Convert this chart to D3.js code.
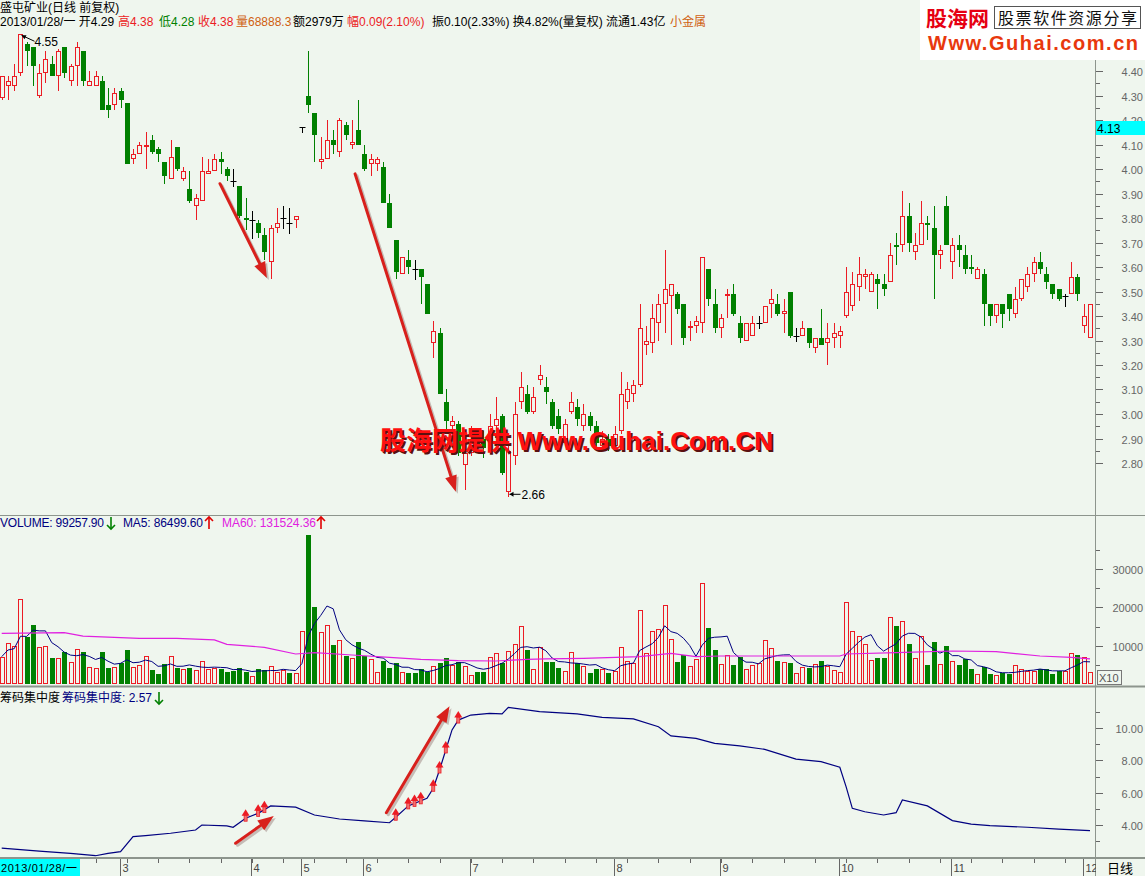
<!DOCTYPE html>
<html><head><meta charset="utf-8">
<script src="https://cdnjs.cloudflare.com/ajax/libs/d3/7.8.5/d3.min.js"></script>
<style>body{margin:0;background:#eff6ee;}svg{display:block;}</style>
</head><body>
<svg id="c" width="1145" height="876"></svg>
<script>
// ---------- DATA ----------
const opens=[4.29,4.34,4.34,4.39,4.51,4.50,4.30,4.39,4.43,4.38,
4.50,4.36,4.42,4.48,4.34,4.34,4.36,4.26,4.26,4.32,
4.27,4.04,4.06,4.09,4.12,4.08,4.03,3.96,4.09,3.96,
3.92,3.85,3.87,3.98,3.99,4.04,4.00,3.95,3.93,3.80,
3.79,3.78,3.73,3.62,3.76,3.80,3.78,3.79,4.17,4.30,
4.23,4.03,4.04,4.12,4.07,4.18,4.10,4.16,4.06,4.02,
4.02,4.01,3.86,3.71,3.57,3.63,3.59,3.59,3.53,3.29,
3.33,3.05,2.95,2.96,2.79,2.84,2.92,2.90,2.88,2.95,
2.99,2.68,2.83,3.05,3.08,3.01,3.14,3.11,3.05,2.99,
2.88,3.01,3.03,2.95,2.99,2.95,2.87,2.90,2.87,2.93,
3.05,3.08,3.12,3.28,3.29,3.37,3.45,3.48,3.49,3.45,
3.35,3.36,3.37,3.59,3.45,3.35,3.48,3.49,3.37,3.30,
3.32,3.37,3.37,3.45,3.45,3.41,3.50,3.32,3.32,3.35,
3.27,3.31,3.29,3.31,3.32,3.40,3.44,3.52,3.56,3.50,
3.55,3.53,3.54,3.69,3.69,3.81,3.66,3.69,3.78,3.76,
3.65,3.85,3.62,3.69,3.65,3.60,3.55,3.57,3.45,3.40,
3.45,3.49,3.41,3.47,3.52,3.57,3.62,3.57,3.53,3.51,
3.48,3.49,3.56,3.36,3.31];
const highs=[4.38,4.38,4.43,4.55,4.52,4.50,4.43,4.48,4.46,4.49,
4.50,4.43,4.52,4.48,4.40,4.40,4.38,4.33,4.33,4.33,
4.27,4.08,4.11,4.15,4.14,4.09,4.03,4.12,4.09,4.01,
3.99,3.90,4.05,4.04,4.06,4.07,4.01,4.00,3.93,3.88,
3.83,3.79,3.76,3.77,3.84,3.85,3.84,3.81,4.17,4.48,
4.23,4.13,4.20,4.16,4.21,4.19,4.20,4.28,4.10,4.06,
4.05,4.03,3.90,3.71,3.64,3.67,3.63,3.59,3.53,3.38,
3.35,3.10,2.99,2.97,2.88,2.95,2.94,2.93,3.00,3.07,
3.00,2.89,3.05,3.17,3.12,3.11,3.20,3.15,3.06,3.02,
2.98,3.09,3.06,3.04,3.01,2.97,2.93,2.92,2.95,3.17,
3.13,3.14,3.45,3.36,3.45,3.49,3.67,3.53,3.50,3.45,
3.38,3.40,3.64,3.59,3.51,3.41,3.51,3.53,3.40,3.37,
3.40,3.40,3.44,3.51,3.49,3.47,3.50,3.35,3.38,3.35,
3.31,3.43,3.37,3.37,3.36,3.60,3.58,3.64,3.59,3.58,
3.57,3.57,3.70,3.74,3.91,3.86,3.74,3.87,3.81,3.85,
3.69,3.89,3.72,3.73,3.69,3.65,3.60,3.59,3.45,3.45,
3.45,3.49,3.52,3.55,3.60,3.64,3.66,3.60,3.53,3.51,
3.49,3.62,3.57,3.45,3.45];
const lows=[4.28,4.28,4.32,4.38,4.42,4.34,4.29,4.35,4.38,4.32,
4.37,4.34,4.34,4.34,4.34,4.34,4.24,4.21,4.24,4.25,
4.02,4.02,4.06,4.00,4.06,4.03,3.94,3.96,3.99,3.95,
3.86,3.79,3.87,3.98,3.99,3.98,3.95,3.93,3.80,3.75,
3.72,3.72,3.63,3.55,3.74,3.76,3.74,3.76,4.15,4.23,
4.03,4.00,4.04,4.06,4.05,4.12,4.08,4.10,3.99,3.97,
3.99,3.86,3.76,3.55,3.57,3.57,3.55,3.45,3.41,3.23,
3.08,2.94,2.90,2.83,2.69,2.83,2.84,2.82,2.86,2.93,
2.75,2.66,2.79,3.02,3.00,3.00,3.12,3.04,2.94,2.92,
2.87,3.00,2.95,2.93,2.93,2.86,2.85,2.85,2.86,2.92,
3.02,3.05,3.11,3.24,3.25,3.30,3.33,3.28,3.41,3.28,
3.30,3.33,3.33,3.44,3.33,3.31,3.39,3.40,3.29,3.30,
3.32,3.35,3.37,3.39,3.40,3.33,3.31,3.30,3.32,3.27,
3.25,3.28,3.20,3.27,3.27,3.39,3.42,3.46,3.51,3.50,
3.43,3.48,3.54,3.61,3.66,3.66,3.63,3.69,3.71,3.47,
3.59,3.69,3.55,3.60,3.57,3.57,3.55,3.36,3.36,3.37,
3.35,3.38,3.39,3.46,3.50,3.54,3.57,3.51,3.47,3.46,
3.44,3.49,3.46,3.33,3.31];
const closes=[4.38,4.36,4.38,4.55,4.48,4.42,4.39,4.45,4.38,4.48,
4.39,4.42,4.50,4.36,4.36,4.38,4.24,4.24,4.31,4.28,
4.02,4.06,4.10,4.10,4.07,4.06,3.97,4.05,4.00,3.99,
3.87,3.88,3.99,3.99,4.04,4.03,3.97,3.95,3.81,3.79,
3.79,3.74,3.66,3.76,3.78,3.80,3.78,3.81,4.17,4.26,
4.14,4.04,4.12,4.10,4.20,4.14,4.11,4.10,4.00,4.04,
4.04,3.86,3.76,3.58,3.64,3.60,3.59,3.56,3.41,3.34,
3.08,2.97,2.97,2.84,2.84,2.88,2.86,2.86,2.95,2.98,
2.76,2.85,3.00,3.11,3.01,3.07,3.16,3.09,2.95,2.94,
2.96,3.05,2.98,3.00,2.95,2.88,2.90,2.87,2.92,3.08,
3.10,3.12,3.35,3.30,3.39,3.45,3.51,3.53,3.43,3.31,
3.36,3.38,3.64,3.47,3.35,3.39,3.49,3.41,3.31,3.37,
3.37,3.37,3.44,3.47,3.41,3.42,3.32,3.32,3.35,3.29,
3.31,3.28,3.31,3.33,3.34,3.50,3.53,3.57,3.57,3.57,
3.53,3.51,3.65,3.68,3.81,3.70,3.69,3.78,3.77,3.65,
3.67,3.69,3.69,3.67,3.59,3.59,3.59,3.45,3.40,3.45,
3.41,3.43,3.47,3.55,3.57,3.62,3.59,3.54,3.49,3.47,
3.48,3.56,3.49,3.40,3.45];
// volume in axis units (x10)
const volumes=[7130,10600,9920,22200,12200,15400,9570,9920,6870,6870,
8270,5740,9140,8350,4520,4260,8350,4260,4520,5570,
8870,4520,4960,7310,3650,2610,5220,7310,4260,3830,
4260,3650,6000,3830,4260,3920,3220,3480,4260,3220,
2090,3920,3650,4700,3220,3650,2960,2960,13800,38900,
20200,13500,15300,10200,11500,7310,6870,10960,7310,6530,
3050,6000,4260,5570,3050,2960,2960,3920,3050,4700,
5570,6870,4960,5740,4700,2350,3220,3220,7130,8000,
5570,8610,10440,15140,8870,3920,9570,5830,5740,4260,
3390,8270,5390,4700,2960,4000,4000,2960,3390,9570,
6000,5390,19300,8000,13800,14300,20500,11700,5740,7480,
4700,6530,26300,14600,8870,5130,7480,4960,7130,3830,
4960,5390,11500,9310,6000,5740,5570,2780,4520,4260,
5130,6000,4700,3650,3050,21400,13800,12500,10400,6260,
6870,6870,17400,15100,16400,10400,6700,12500,4960,10960,
5130,9920,6000,4960,6610,3920,2520,4440,2610,2350,
2780,2520,4960,3830,3390,3390,3920,3830,2610,3390,
3390,8000,7480,6960,3050];
// MA60 of volume at these candle indices
const ma60Idx=[0,10,13,22,28,34,36,42,47,50,56,62,67,73,79,84,87,93,102,107,111,115,126,134,135,143,152,159,166,171,174];
const ma60Val=[13200,13400,12500,11900,11900,11500,10350,9570,7830,8180,7570,6960,6440,6090,6000,6440,6530,6700,7130,8000,7130,7310,7310,7310,7830,8180,8610,8440,7310,6960,6530];
// 筹码集中度 line, read at these candle indices
const concIdx=[0,6,11,15,17,19,21,23,27,31,32,36,37,39,41,43,47,50,54,58,62,63,65,68,69,70,71,72,73,75,78,80,81,86,92,96,101,105,107,111,114,118,122,127,131,134,135,136,138,141,143,144,148,152,155,158,164,169,174];
const concVal=[2.57,2.39,2.25,2.10,2.25,2.35,3.28,3.34,3.49,3.69,4.00,3.94,3.86,4.42,4.72,5.18,5.10,4.62,4.37,4.25,4.14,4.48,5.18,5.65,6.27,7.40,8.64,9.88,10.49,10.80,10.91,10.87,11.28,11.01,10.87,10.66,10.56,10.08,9.51,9.36,9.05,8.89,8.68,8.08,7.92,7.57,6.37,5.03,4.82,4.62,4.76,5.55,5.18,4.27,4.06,3.96,3.86,3.74,3.65];
const markIdx=[39,41,42,63,65,66,67,69,70,71,73];
const monthLabels=["3","4","5","6","7","8","9","10","11","12"];
const monthIdx=[19,40,48,58,75,98,115,134,152,173];
const priceTicks=[4.40,4.30,4.20,4.10,4.00,3.90,3.80,3.70,3.60,3.50,3.40,3.30,3.20,3.10,3.00,2.90,2.80];
const volTicks=[10000,20000,30000];
const concTicks=[4,6,8,10];
// annotation arrows in data units: [fromIndex, fromValue, toIndex, toValue]
const priceArrows=[[34.9,3.94,42.4,3.555],[56.5,3.98,72.6,2.683]];
const concArrows=[[37.4,2.87,43.5,4.55],[61.5,4.76,71.6,11.35]];

// ---------- SETUP ----------
const BG="#eff6ee", RED="#ec1c24", GREEN="#008000", NAVY="#000080", MAG="#e020e0", AX="#666";
const FONT="'Liberation Sans','Noto Sans CJK SC',Arial,sans-serif";
const svg=d3.select("#c").style("font-family",FONT);
svg.append("rect").attr("width",1145).attr("height",876).attr("fill",BG);
const N=opens.length;
const x=d3.scaleLinear().domain([0,N-1]).range([1.7,1090]);
const yP=d3.scaleLinear().domain([2.8,4.4]).range([463,71]);
const yV=d3.scaleLinear().domain([0,30000]).range([684,569]);
const yC=d3.scaleLinear().domain([4,10]).range([825,728]);
const data=d3.range(N).map(i=>({i,o:opens[i],h:highs[i],l:lows[i],c:closes[i],v:volumes[i]}));
const isUp=d=> d.c!==d.o ? d.c>d.o : (d.i===0 || d.c>=closes[d.i-1]);
const cxOf=i=>Math.round(x(i))+0.5;

// ---------- PANEL LINES ----------
const lines=svg.append("g").attr("stroke","#8d958d");
lines.append("line").attr("x1",0).attr("x2",1145).attr("y1",515.5).attr("y2",515.5);
lines.append("line").attr("x1",0).attr("x2",1145).attr("y1",686.5).attr("y2",686.5).attr("stroke-width",2);
lines.append("line").attr("x1",0).attr("x2",1145).attr("y1",858).attr("y2",858).attr("stroke-width",2);
lines.append("line").attr("x1",1095.5).attr("x2",1095.5).attr("y1",30).attr("y2",876);

// ---------- CANDLES ----------
const cg=svg.append("g");
data.forEach(d=>{
  const cx=cxOf(d.i);
  const top=Math.round(yP(Math.max(d.o,d.c))), bot=Math.round(yP(Math.min(d.o,d.c)));
  const yh=Math.round(yP(d.h)), yl=Math.round(yP(d.l));
  if(d.c>d.o){
    if(yh<top) cg.append("line").attr("x1",cx).attr("x2",cx).attr("y1",yh).attr("y2",top).attr("stroke",RED);
    if(yl>bot) cg.append("line").attr("x1",cx).attr("x2",cx).attr("y1",bot).attr("y2",yl).attr("stroke",RED);
    cg.append("rect").attr("x",cx-2).attr("y",top+0.5).attr("width",4).attr("height",Math.max(1,bot-top-1)).attr("fill",BG).attr("stroke",RED);
  } else if(d.c<d.o){
    cg.append("line").attr("x1",cx).attr("x2",cx).attr("y1",yh).attr("y2",yl).attr("stroke",GREEN);
    cg.append("rect").attr("x",cx-2.5).attr("y",top).attr("width",5).attr("height",Math.max(1,bot-top)).attr("fill",GREEN);
  } else {
    cg.append("line").attr("x1",cx).attr("x2",cx).attr("y1",yh).attr("y2",yl+1).attr("stroke","#000");
    cg.append("line").attr("x1",cx-3).attr("x2",cx+3).attr("y1",top+0.5).attr("y2",top+0.5).attr("stroke","#000");
  }
});
// high / low markers
const hiI=d3.maxIndex(highs), loI=d3.minIndex(lows);
const hx=cxOf(hiI), hy=yP(highs[hiI]);
svg.append("line").attr("x1",hx+1).attr("y1",hy+1).attr("x2",hx+14).attr("y2",hy+7).attr("stroke","#000");
svg.append("path").attr("d",`M${hx+1},${hy+1} l5,0 l-2,4 z`).attr("fill","#000");
svg.append("text").attr("x",hx+14).attr("y",hy+12).attr("font-size",12).attr("fill","#000").text(highs[hiI].toFixed(2));
const lx=cxOf(loI), ly=yP(lows[loI])-3;
svg.append("line").attr("x1",lx+1).attr("y1",ly).attr("x2",lx+12).attr("y2",ly).attr("stroke","#000");
svg.append("path").attr("d",`M${lx+1},${ly} l4,-2.5 l0,5 z`).attr("fill","#000");
svg.append("text").attr("x",lx+13).attr("y",ly+5).attr("font-size",12).attr("fill","#000").text(lows[loI].toFixed(2));

// ---------- VOLUME ----------
const vg=svg.append("g");
data.forEach(d=>{
  const cx=cxOf(d.i), t=Math.round(yV(d.v)), b=Math.round(yV(0));
  if(isUp(d)) vg.append("rect").attr("x",cx-2).attr("y",t+0.5).attr("width",4).attr("height",b-t-1).attr("fill",BG).attr("stroke",RED);
  else vg.append("rect").attr("x",cx-2.5).attr("y",t).attr("width",5).attr("height",b-t).attr("fill",GREEN);
});
const ma5=data.map(d=>d3.mean(volumes.slice(Math.max(0,d.i-4),d.i+1)));
svg.append("path").attr("d",d3.line().x((v,i)=>x(i)).y(v=>yV(v)).curve(d3.curveLinear)(ma5)).attr("fill","none").attr("stroke",NAVY).attr("stroke-width",1);
svg.append("path").attr("d",d3.line().x((v,k)=>x(ma60Idx[k])).y(v=>yV(v))(ma60Val)).attr("fill","none").attr("stroke",MAG).attr("stroke-width",1.2);

// ---------- CONCENTRATION ----------
const concLine=d3.line().x((v,k)=>x(concIdx[k])).y(v=>yC(v));
svg.append("path").attr("d",concLine(concVal)).attr("fill","none").attr("stroke",NAVY).attr("stroke-width",1.2);
const concAt=i=>{const k=d3.bisectRight(concIdx,i)-1; if(k>=concIdx.length-1) return concVal[concVal.length-1];
  const t=(i-concIdx[k])/(concIdx[k+1]-concIdx[k]); return concVal[k]+(concVal[k+1]-concVal[k])*t;};
markIdx.forEach(i=>{
  const cx=x(i), cy=yC(concAt(i))+4;
  svg.append("rect").attr("x",cx-1.5).attr("y",cy-7).attr("width",3).attr("height",6).attr("fill","#f07070").attr("stroke",RED).attr("stroke-width",0.8);
  svg.append("path").attr("d",`M${cx},${cy-13} L${cx+4},${cy-6.5} L${cx-4},${cy-6.5} Z`).attr("fill",RED);
});

// ---------- BIG ANNOTATION ARROWS ----------
function bigArrow(x1,y1,x2,y2){
  const dx=x2-x1, dy=y2-y1, L=Math.hypot(dx,dy), ux=dx/L, uy=dy/L, px=-uy, py=ux;
  const hl=16, hw=6;
  const bx=x2-ux*hl, by=y2-uy*hl;
  const g=svg.append("g");
  [[2,2,"rgba(90,40,40,0.28)"],[0,0,"#d8201c"]].forEach(([ox,oy,col])=>{
    g.append("line").attr("x1",x1+ox).attr("y1",y1+oy).attr("x2",bx+ox).attr("y2",by+oy).attr("stroke",col).attr("stroke-width",3).attr("stroke-linecap","round");
    g.append("path").attr("d",`M${x2+ox},${y2+oy} L${bx+px*hw+ox},${by+py*hw+oy} L${bx-px*hw+ox},${by-py*hw+oy} Z`).attr("fill",col);
  });
}
priceArrows.forEach(a=>bigArrow(x(a[0]),yP(a[1]),x(a[2]),yP(a[3])));
concArrows.forEach(a=>bigArrow(x(a[0]),yC(a[1]),x(a[2]),yC(a[3])));

// ---------- RIGHT AXES ----------
const ax=svg.append("g").attr("font-size",11).attr("fill",AX);
function rightAxis(scale,ticks,minor,fmt){
  ticks.forEach(t=>{
    const yy=Math.round(scale(t))+0.5;
    ax.append("line").attr("x1",1096).attr("x2",1103).attr("y1",yy).attr("y2",yy).attr("stroke",AX);
    ax.append("text").attr("x",1143).attr("y",yy+4).attr("text-anchor","end").text(fmt(t));
  });
  minor.forEach(t=>{
    const yy=Math.round(scale(t))+0.5;
    ax.append("line").attr("x1",1096).attr("x2",1100).attr("y1",yy).attr("y2",yy).attr("stroke",AX);
  });
}
rightAxis(yP,priceTicks,priceTicks.map(t=>t+0.05).filter(t=>t<4.45),t=>t.toFixed(2));
rightAxis(yV,volTicks,[5000,15000,25000,35000],t=>String(t));
rightAxis(yC,concTicks,[3,5,7,9,11],t=>t.toFixed(2));
// current price badge
svg.append("rect").attr("x",1096).attr("y",121).attr("width",49).attr("height",14).attr("fill","#00ffff");
svg.append("text").attr("x",1097).attr("y",132.5).attr("font-size",12).attr("fill","#000").text("4.13");
// X10 box
svg.append("rect").attr("x",1097.5).attr("y",670.5).attr("width",24).attr("height",14).attr("fill",BG).attr("stroke","#777");
svg.append("text").attr("x",1099).attr("y",682).attr("font-size",11).attr("fill","#555").text("X10");

// ---------- BOTTOM AXIS ----------
const bx=svg.append("g");
bx.append("rect").attr("x",0).attr("y",859).attr("width",80).attr("height",17).attr("fill","#00ffff");
bx.append("text").attr("x",1).attr("y",872).attr("font-size",11).attr("fill","#000").attr("textLength",76).text("2013/01/28/一");
for(let i=5;i<N;i+=5){
  const xx=Math.round(x(i))+0.5;
  if(xx<82) continue;
  bx.append("line").attr("x1",xx).attr("x2",xx).attr("y1",859).attr("y2",863).attr("stroke","#666");
}
monthIdx.forEach((i,k)=>{
  const xx=Math.round(x(i))-0.5;
  bx.append("line").attr("x1",xx).attr("x2",xx).attr("y1",859).attr("y2",876).attr("stroke","#666");
  bx.append("text").attr("x",xx+2).attr("y",872).attr("font-size",11).attr("fill","#444").text(monthLabels[k]);
});
bx.append("rect").attr("x",1096).attr("y",859).attr("width",49).attr("height",17).attr("fill",BG);
bx.append("text").attr("x",1120).attr("y",873).attr("font-size",13).attr("text-anchor","middle").attr("fill","#000").text("日线");

// ---------- HEADERS ----------
svg.append("text").attr("x",0).attr("y",12).attr("font-size",12).attr("fill","#000").text("盛屯矿业(日线 前复权)");
const hdr=[[0,"2013/01/28/一 开4.29","#000"],[118,"高4.38",RED],[159,"低4.28",GREEN],[198,"收4.38",RED],
  [236,"量68888.3","#d06010"],[293,"额2979万","#000"],[347,"幅0.09(2.10%)",RED],
  [432,"振0.10(2.33%) 换4.82%(量复权) 流通1.43亿","#000"],[670,"小金属","#d06010"]];
hdr.forEach(h=>svg.append("text").attr("x",h[0]).attr("y",26).attr("font-size",12).attr("fill",h[2]).text(h[1]));
const vh=[[0,"VOLUME: 99257.90",NAVY,104],[123,"MA5: 86499.60",NAVY,80],[222,"MA60: 131524.36",MAG,94]];
vh.forEach(h=>svg.append("text").attr("x",h[0]).attr("y",527).attr("font-size",12).attr("fill",h[2]).attr("textLength",h[3]).text(h[1]));
const ch=[[0,"筹码集中度","#000"],[62,"筹码集中度: 2.57",NAVY]];
ch.forEach(h=>svg.append("text").attr("x",h[0]).attr("y",702).attr("font-size",12).attr("fill",h[2]).text(h[1]));
// up / down indicator arrows beside the values
function indArrow(ax0,yTop,up,col){
  const g=svg.append("g").attr("stroke",col).attr("fill","none").attr("stroke-width",1.6);
  g.append("line").attr("x1",ax0).attr("x2",ax0).attr("y1",yTop).attr("y2",yTop+12);
  if(up) g.append("path").attr("d",`M${ax0-4},${yTop+4} L${ax0},${yTop} L${ax0+4},${yTop+4}`);
  else g.append("path").attr("d",`M${ax0-4},${yTop+8} L${ax0},${yTop+12} L${ax0+4},${yTop+8}`);
}
indArrow(111,517,false,GREEN);
indArrow(209,517,true,"#e00000");
indArrow(321,517,true,"#e00000");
indArrow(159,692,false,GREEN);

// ---------- WATERMARKS ----------
const wm=svg.append("g").attr("font-weight","bold").attr("font-size",26);
wm.append("text").attr("x",382).attr("y",452).attr("fill","#5a1010").attr("textLength",393).text("股海网提供 Www.Guhai.Com.CN");
wm.append("text").attr("x",380).attr("y",450).attr("fill","#ff1010").attr("textLength",393).text("股海网提供 Www.Guhai.Com.CN");
const lg=svg.append("g");
lg.append("rect").attr("x",920).attr("y",0).attr("width",225).attr("height",60).attr("fill","#fff");
lg.append("text").attr("x",926).attr("y",26).attr("font-size",21).attr("font-weight","bold").attr("fill","#e60012").text("股海网");
lg.append("rect").attr("x",994.5).attr("y",6.5).attr("width",146).attr("height",22).attr("fill","#fff").attr("stroke","#555");
lg.append("text").attr("x",998).attr("y",24).attr("font-size",16).attr("fill","#111").attr("textLength",139).text("股票软件资源分享");
lg.append("text").attr("x",928).attr("y",50).attr("font-size",20).attr("font-weight","bold").attr("fill","#e8380d").attr("textLength",210).text("Www.Guhai.com.cn");
</script>
</body></html>
